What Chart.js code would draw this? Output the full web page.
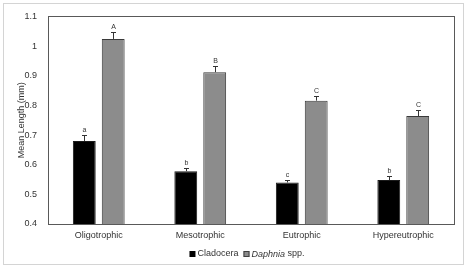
<!DOCTYPE html>
<html>
<head>
<meta charset="utf-8">
<script src="https://cdn.jsdelivr.net/npm/chart.js@4"></script>
<style>
  html, body { margin: 0; padding: 0; background: #fff; }
  #wrap { width: 467px; height: 269px; position: relative; }
</style>
</head>
<body>
<div id="wrap"><canvas id="chart"></canvas></div>
<script>
// Chart data
const categories = ['Oligotrophic', 'Mesotrophic', 'Eutrophic', 'Hypereutrophic'];
const cladocera = [0.680, 0.578, 0.540, 0.548];
const cladoceraErr = [0.020, 0.010, 0.007, 0.015];
const cladoceraLetters = ['a', 'b', 'c', 'b'];
const daphnia = [1.024, 0.912, 0.816, 0.764];
const daphniaErr = [0.023, 0.021, 0.014, 0.022];
const daphniaLetters = ['A', 'B', 'C', 'C'];
const yTicks = [0.4, 0.5, 0.6, 0.7, 0.8, 0.9, 1.0, 1.1];

const FONT = '"Liberation Sans", Arial, sans-serif';
const TEXT = '#333333';

/**
 * Draws the light outer frame and the plot box
 */
const framePlugin = {
    id: 'frame',
    beforeDraw(chart) {
        const c = chart.ctx;
        c.save();
        c.strokeStyle = '#d4d4d4';
        c.lineWidth = 1;
        c.strokeRect(3.5, 3.5, chart.width - 7, chart.height - 8);
        c.restore();
    },
    afterDraw(chart) {
        const { left, top, right, bottom } = chart.chartArea;
        const c = chart.ctx;
        c.save();
        c.strokeStyle = '#595959';
        c.lineWidth = 1;
        c.strokeRect(Math.round(left) + 0.5, Math.round(top) + 0.5,
            Math.round(right - left), Math.round(bottom - top));
        c.restore();
    }
};

/**
 * Draws error bars (upper only) and significance letters
 */
const errorBarPlugin = {
    id: 'errorBars',
    afterDatasetsDraw(chart) {
        const c = chart.ctx;
        const yScale = chart.scales.y;
        c.save();
        chart.data.datasets.forEach((ds, i) => {
            const meta = chart.getDatasetMeta(i);
            meta.data.forEach((bar, j) => {
                const x = Math.round(bar.x) + 0.5;
                const yTop = bar.y;
                const yErr = Math.round(yScale.getPixelForValue(ds.data[j] + ds.errors[j])) + 0.5;
                c.strokeStyle = '#333';
                c.lineWidth = 1;
                c.beginPath();
                c.moveTo(x, yTop);
                c.lineTo(x, yErr);
                c.moveTo(x - 2.5, yErr);
                c.lineTo(x + 2.5, yErr);
                c.stroke();

                c.fillStyle = TEXT;
                c.font = '7px ' + FONT;
                c.textAlign = 'center';
                c.textBaseline = 'bottom';
                c.fillText(ds.letters[j], x, yErr - 2);
            });
        });
        c.restore();
    }
};

/**
 * Custom legend so that the genus name can be italic
 */
const legendPlugin = {
    id: 'customLegend',
    afterDraw(chart) {
        const c = chart.ctx;
        const box = 6;
        const y = 254;
        const items = [
            { fill: '#000000', parts: [{ text: 'Cladocera', italic: false }] },
            { fill: '#8c8c8c', parts: [{ text: 'Daphnia', italic: true }, { text: ' spp.', italic: false }] }
        ];
        c.save();
        c.textBaseline = 'middle';
        const fontFor = (p) => (p.italic ? 'italic ' : '') + '9px ' + FONT;
        let widths = items.map(it => it.parts.reduce((s, p) => {
            c.font = fontFor(p);
            return s + c.measureText(p.text).width;
        }, 0));
        const gap = 5;
        const total = widths.reduce((s, w) => s + box + 2 + w, 0) + gap;
        let x = (chart.chartArea.left + chart.chartArea.right) / 2 - 4 - total / 2;
        items.forEach((it, k) => {
            c.fillStyle = it.fill;
            c.fillRect(x, y - box / 2, box, box);
            if (k === 1) {
                c.strokeStyle = '#404040';
                c.strokeRect(x + 0.5, y - box / 2 + 0.5, box - 1, box - 1);
            }
            x += box + 2;
            it.parts.forEach(p => {
                c.font = fontFor(p);
                c.fillStyle = TEXT;
                c.textAlign = 'left';
                c.fillText(p.text, x, y);
                x += c.measureText(p.text).width;
            });
            x += gap;
        });
        c.restore();
    }
};

new Chart(document.getElementById('chart'), {
    type: 'bar',
    data: {
        labels: categories,
        datasets: [
            {
                label: 'Cladocera',
                data: cladocera,
                errors: cladoceraErr,
                letters: cladoceraLetters,
                backgroundColor: '#000000',
                borderColor: '#1a1a1a',
                borderWidth: 1
            },
            {
                label: 'Daphnia spp.',
                data: daphnia,
                errors: daphniaErr,
                letters: daphniaLetters,
                backgroundColor: '#8c8c8c',
                borderColor: '#3a3a3a',
                borderWidth: 1
            }
        ]
    },
    options: {
        responsive: true,
        maintainAspectRatio: false,
        animation: false,
        categoryPercentage: 0.57,
        barPercentage: 0.79,
        layout: {
            padding: { top: 13, right: 13, left: 0, bottom: 0 }
        },
        plugins: {
            legend: { display: false },
            tooltip: { enabled: false }
        },
        scales: {
            x: {
                grid: { display: false, drawTicks: false },
                border: { display: false },
                ticks: {
                    color: TEXT,
                    font: { family: FONT, size: 9 },
                    padding: 6,
                    maxRotation: 0
                },
                afterFit(scale) { scale.height = 45; }
            },
            y: {
                min: 0.4,
                max: 1.1,
                grid: { display: false, drawTicks: false },
                border: { display: false },
                afterBuildTicks(scale) {
                    scale.ticks = yTicks.map(v => ({ value: v }));
                },
                ticks: {
                    color: TEXT,
                    font: { family: FONT, size: 9 },
                    padding: 11,
                    callback: (v) => String(Math.round(v * 10) / 10)
                },
                title: {
                    display: true,
                    text: 'Mean Length (mm)',
                    color: TEXT,
                    font: { family: FONT, size: 9 },
                    padding: { top: 16, bottom: 0 }
                },
                afterFit(scale) { scale.width = 48; }
            }
        }
    },
    plugins: [framePlugin, errorBarPlugin, legendPlugin]
});
</script>
</body>
</html>
